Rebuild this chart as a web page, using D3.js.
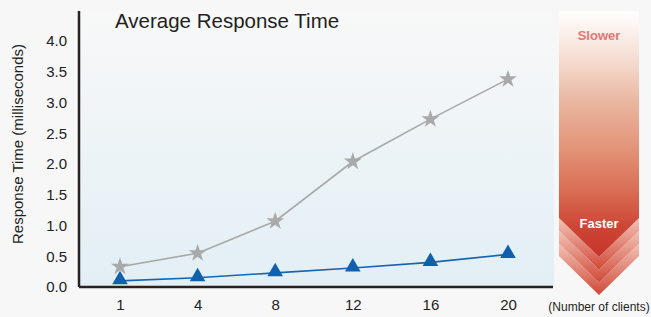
<!DOCTYPE html>
<html>
<head>
<meta charset="utf-8">
<script src="https://cdn.jsdelivr.net/npm/d3@7"></script>
<style>
  html, body { margin: 0; padding: 0; background: #f7f7f7; }
  svg { display: block; font-family: "Liberation Sans", Arial, sans-serif; }
</style>
</head>
<body>
<div id="chart"></div>
<script>
'use strict';

// data
var clients = ['1', '4', '8', '12', '16', '20'];
var slowSeries = [0.33, 0.55, 1.07, 2.04, 2.73, 3.38];   // grey stars
var fastSeries = [0.10, 0.15, 0.23, 0.31, 0.40, 0.53];   // blue triangles
var yTicks = [0, 0.5, 1, 1.5, 2, 2.5, 3, 3.5, 4];

var W = 651, H = 317;
var margin = { top: 11, right: 97, bottom: 30, left: 79 };
var plotW = W - margin.left - margin.right;   // ~475
var plotH = H - margin.top - margin.bottom;   // 276

var svg = d3.select('#chart').append('svg')
    .attr('width', W)
    .attr('height', H);

var defs = svg.append('defs');

var bgGrad = defs.append('linearGradient')
    .attr('id', 'plotbg')
    .attr('x1', 0).attr('y1', 0).attr('x2', 0).attr('y2', 1);
bgGrad.append('stop').attr('offset', '0%').attr('stop-color', '#f8f8f8');
bgGrad.append('stop').attr('offset', '100%').attr('stop-color', '#e2eff5');

// main arrow body: white at the top, red at the tip
var arrowGrad = defs.append('linearGradient')
    .attr('id', 'arrowbg')
    .attr('gradientUnits', 'userSpaceOnUse')
    .attr('x1', 0).attr('y1', 11).attr('x2', 0).attr('y2', 257);
[['0%', '#ffffff'], ['20%', '#f5dcd0'], ['36%', '#eab8a2'], ['56%', '#e29478'],
 ['75%', '#d86850'], ['88%', '#cc4535'], ['100%', '#c8342a']].forEach(function (s) {
  arrowGrad.append('stop').attr('offset', s[0]).attr('stop-color', s[1]);
});

// chevron bands under the arrow
var bandGrad = defs.append('linearGradient')
    .attr('id', 'bandbg')
    .attr('x1', 0).attr('y1', 0).attr('x2', 0).attr('y2', 1);
bandGrad.append('stop').attr('offset', '0%').attr('stop-color', '#f2c4b6');
bandGrad.append('stop').attr('offset', '100%').attr('stop-color', '#d04838');

var g = svg.append('g')
    .attr('transform', 'translate(' + margin.left + ',' + margin.top + ')');

// plot background
g.append('rect')
    .attr('width', plotW)
    .attr('height', plotH)
    .style('fill', 'url(#plotbg)');

var x = d3.scalePoint()
    .domain(clients)
    .range([41, 429]);

var y = d3.scaleLinear()
    .domain([0, 4])
    .range([276, 30]);

// axes
var yAxis = d3.axisLeft(y)
    .tickValues(yTicks)
    .tickSize(0)
    .tickPadding(12)
    .tickFormat(d3.format('.1f'));

g.append('g')
    .attr('class', 'y axis')
    .call(yAxis)
    .call(function (sel) {
      sel.select('.domain').remove();
      sel.selectAll('text')
          .style('font-size', '15px')
          .style('fill', '#222')
          .style('font-family', '"Liberation Sans", Arial, sans-serif');
    });

var xAxis = d3.axisBottom(x)
    .tickSize(0)
    .tickPadding(12);

g.append('g')
    .attr('class', 'x axis')
    .attr('transform', 'translate(0,' + plotH + ')')
    .call(xAxis)
    .call(function (sel) {
      sel.select('.domain').remove();
      sel.selectAll('text')
          .style('font-size', '15px')
          .style('fill', '#222')
          .style('font-family', '"Liberation Sans", Arial, sans-serif');
    });

// axis lines
g.append('line')
    .attr('x1', 0).attr('x2', 0)
    .attr('y1', 0).attr('y2', plotH)
    .style('stroke', '#2a2020')
    .style('stroke-width', 2.5);

g.append('line')
    .attr('x1', 0).attr('x2', plotW - 1)
    .attr('y1', plotH).attr('y2', plotH)
    .style('stroke', '#2a2020')
    .style('stroke-width', 2.5);

// lines
var line = d3.line()
    .x(function (d, i) { return x(clients[i]); })
    .y(function (d) { return y(d); });

g.append('path')
    .datum(slowSeries)
    .attr('d', line)
    .style('fill', 'none')
    .style('stroke', '#a8a8a8')
    .style('stroke-width', 1.6);

g.append('path')
    .datum(fastSeries)
    .attr('d', line)
    .style('fill', 'none')
    .style('stroke', '#1565b0')
    .style('stroke-width', 1.6);

var star = d3.symbol().type(d3.symbolStar).size(100);
var tri = d3.symbol().type(d3.symbolTriangle).size(105);

g.selectAll('path.star')
    .data(slowSeries)
  .enter().append('path')
    .attr('class', 'star')
    .attr('d', star)
    .attr('transform', function (d, i) {
      return 'translate(' + x(clients[i]) + ',' + y(d) + ')';
    })
    .style('fill', '#a9a9a9');

g.selectAll('path.tri')
    .data(fastSeries)
  .enter().append('path')
    .attr('class', 'tri')
    .attr('d', tri)
    .attr('transform', function (d, i) {
      return 'translate(' + x(clients[i]) + ',' + (y(d) - 1) + ')';
    })
    .style('fill', '#1160ab');

// title
svg.append('text')
    .attr('x', 115)
    .attr('y', 28)
    .style('font-size', '20.5px')
    .style('fill', '#231f20')
    .text('Average Response Time');

// y label
svg.append('text')
    .attr('transform', 'translate(23,144) rotate(-90)')
    .style('text-anchor', 'middle')
    .style('font-size', '15px')
    .style('fill', '#231f20')
    .text('Response Time (milliseconds)');

// x unit label
svg.append('text')
    .attr('x', 599)
    .attr('y', 311)
    .style('text-anchor', 'middle')
    .style('font-size', '12px')
    .style('fill', '#231f20')
    .text('(Number of clients)');

// slower / faster arrow
var ax0 = 559, ax1 = 639, amid = (ax0 + ax1) / 2;
var shoulder = 218, tip = 257, step = 12.7;

for (var k = 3; k >= 1; k--) {
  var s = shoulder + k * step, t = tip + k * step;
  svg.append('path')
      .attr('d', 'M' + ax0 + ',' + (s - step) + 'L' + ax0 + ',' + s + 'L' + amid + ',' + t +
          'L' + ax1 + ',' + s + 'L' + ax1 + ',' + (s - step) + 'L' + amid + ',' + (t - step) + 'Z')
      .style('fill', 'url(#bandbg)');
}

svg.append('path')
    .attr('d', 'M' + ax0 + ',11L' + ax1 + ',11L' + ax1 + ',' + shoulder +
        'L' + amid + ',' + tip + 'L' + ax0 + ',' + shoulder + 'Z')
    .style('fill', 'url(#arrowbg)');

svg.append('text')
    .attr('x', amid)
    .attr('y', 40)
    .style('text-anchor', 'middle')
    .style('font-size', '13px')
    .style('font-weight', 'bold')
    .style('fill', '#e47675')
    .text('Slower');

svg.append('text')
    .attr('x', amid)
    .attr('y', 228)
    .style('text-anchor', 'middle')
    .style('font-size', '13px')
    .style('font-weight', 'bold')
    .style('fill', '#ffffff')
    .text('Faster');
</script>
</body>
</html>
